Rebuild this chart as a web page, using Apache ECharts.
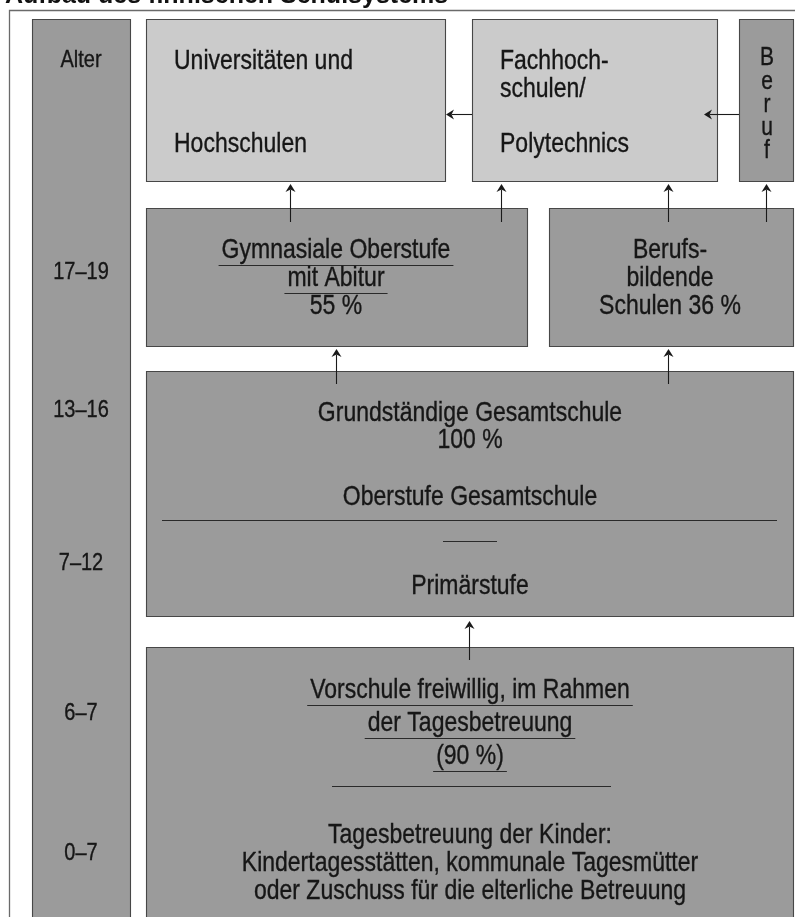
<!DOCTYPE html>
<html><head><meta charset="utf-8">
<script src="https://cdn.jsdelivr.net/npm/echarts@6/dist/echarts.min.js"></script>
<style>html,body{margin:0;padding:0;background:#fff}#c{width:795px;height:917px}</style>
</head><body><div id="c"></div>
<script>
// ---------- content ----------
const titleText = 'Aufbau des finnischen Schulsystems';
const ageLabels = ['Alter', '17–19', '13–16', '7–12', '6–7', '0–7'];
const uniLines = ['Universitäten und', 'Hochschulen'];
const fhLines = ['Fachhoch-', 'schulen/', 'Polytechnics'];
const berufLetters = ['B', 'e', 'r', 'u', 'f'];
const sharePct = [55, 36, 100, 90]; // Gymnasium, Berufsbildende, Gesamtschule, Vorschule
const gymLines = ['Gymnasiale Oberstufe', 'mit Abitur', sharePct[0] + ' %'];
const berufsLines = ['Berufs-', 'bildende', 'Schulen ' + sharePct[1] + ' %'];
const gesamtLines = ['Grundständige Gesamtschule', sharePct[2] + ' %', 'Oberstufe Gesamtschule', 'Primärstufe'];
const vorschuleLines = ['Vorschule freiwillig, im Rahmen', 'der Tagesbetreuung', '(' + sharePct[3] + ' %)',
  'Tagesbetreuung der Kinder:', 'Kindertagesstätten, kommunale Tagesmütter', 'oder Zuschuss für die elterliche Betreuung'];

// ---------- layout (diagram units = pixels of a 795 x 917 canvas) ----------
const W = 795, H = 917;
const FONT = '"Liberation Sans", Arial, Helvetica, sans-serif';
const FS = 23, SY = 1.2, AGE_FS = 20;
const TONES = ['#cbcbcb', '#9b9b9b'];
const boxes = [
  [32, 19, 130, 960, 1],    // Alter
  [146, 19, 445, 181, 0],   // Universitäten
  [472, 19, 717, 181, 0],   // Fachhochschulen
  [739, 19, 793, 181, 1],   // Beruf
  [146, 208, 527, 346, 1],  // Gymnasiale Oberstufe
  [549, 208, 793, 346, 1],  // Berufsbildende Schulen
  [146, 371, 793, 616, 1],  // Gesamtschule
  [146, 647, 793, 960, 1]   // Vorschule / Tagesbetreuung
];
const ageY = [60, 272, 410, 563, 713, 853];
const texts = [];
texts.push({ t: titleText, x: 5, y: -4, align: 'left', fs: 25, bold: true });
ageLabels.forEach((t, i) => texts.push({ t, x: 81, y: ageY[i], align: 'center', fs: AGE_FS }));
[61, 144].forEach((y, i) => texts.push({ t: uniLines[i], x: 174, y, align: 'left' }));
[61, 89, 144].forEach((y, i) => texts.push({ t: fhLines[i], x: 500, y, align: 'left' }));
[58, 82, 105, 128, 151].forEach((y, i) => texts.push({ t: berufLetters[i], x: 767, y, align: 'center', fs: 21 }));
[250, 278, 306].forEach((y, i) => texts.push({ t: gymLines[i], x: 336, y, align: 'center', ul: i < 2 }));
[250, 278, 306].forEach((y, i) => texts.push({ t: berufsLines[i], x: 670, y, align: 'center' }));
[413, 440, 497, 586].forEach((y, i) => texts.push({ t: gesamtLines[i], x: 470, y, align: 'center' }));
[690, 723, 756, 835, 863, 891].forEach((y, i) => texts.push({ t: vorschuleLines[i], x: 470, y, align: 'center', ul: i < 3 }));

const rules = [ // [x0, y, x1]
  [162, 520, 777], [443, 541, 497], [332, 786, 611]
];
const arrows = [ // [xTail, yTail, xTip, yTip]
  [290, 222, 290, 184], [501, 222, 501, 184], [668, 222, 668, 184], [766, 222, 766, 184],
  [336, 384, 336, 349], [668, 384, 668, 349],
  [469, 660, 469, 621],
  [472, 114, 446, 114], [739, 114, 704, 114]
];
const frame = [[9, H], [9, 10], [W, 10]];

// text measuring for underlines
const mctx = document.createElement('canvas').getContext('2d');
mctx.font = FS + 'px ' + FONT;

const chart = echarts.init(document.getElementById('c'), null, { renderer: 'canvas' });
const crisp = v => Math.round(v) + 0.5;

chart.setOption({
  animation: false,
  backgroundColor: '#fff',
  grid: { left: 0, right: 0, top: 0, bottom: 0 },
  xAxis: { type: 'value', min: 0, max: W, show: false },
  yAxis: { type: 'value', min: 0, max: H, inverse: true, show: false },
  series: [
    { // frame
      type: 'custom', silent: true, clip: false,
      data: [[0, 0]],
      renderItem: (p, api) => ({
        type: 'polyline',
        shape: { points: frame.map(q => { const c = api.coord(q); return [crisp(c[0]), crisp(c[1])]; }) },
        style: { stroke: '#6a6a6a', lineWidth: 1.3, fill: null }
      })
    },
    { // boxes
      type: 'custom', silent: true, clip: false,
      data: boxes,
      renderItem: (p, api) => {
        const a = api.coord([api.value(0), api.value(1)]);
        const b = api.coord([api.value(2), api.value(3)]);
        return {
          type: 'rect',
          shape: { x: crisp(a[0]), y: crisp(a[1]), width: Math.round(b[0] - a[0]), height: Math.round(b[1] - a[1]) },
          style: { fill: TONES[api.value(4)], stroke: '#474747', lineWidth: 1.1 }
        };
      }
    },
    { // separator rules
      type: 'custom', silent: true, clip: false,
      data: rules,
      renderItem: (p, api) => {
        const a = api.coord([api.value(0), api.value(1)]);
        const b = api.coord([api.value(2), api.value(1)]);
        return { type: 'line', shape: { x1: a[0], y1: crisp(a[1]), x2: b[0], y2: crisp(b[1]) },
          style: { stroke: '#2a2a2a', lineWidth: 1.1 } };
      }
    },
    { // arrows
      type: 'custom', silent: true, clip: false,
      data: arrows,
      renderItem: (p, api) => {
        const t = api.coord([api.value(0), api.value(1)]);
        const h = api.coord([api.value(2), api.value(3)]);
        const dx = h[0] - t[0], dy = h[1] - t[1];
        const len = Math.hypot(dx, dy), ux = dx / len, uy = dy / len;
        const L = 8, Wd = 5;
        const vert = Math.abs(dx) < 0.01;
        const hx = vert ? crisp(h[0]) : h[0], hy = vert ? h[1] : crisp(h[1]);
        const tx = vert ? hx : t[0], ty = vert ? t[1] : hy;
        const bx = hx - ux * L, by = hy - uy * L;
        const nx = hx - ux * (L - 2.5), ny = hy - uy * (L - 2.5);
        return {
          type: 'group',
          children: [
            { type: 'line', shape: { x1: tx, y1: ty, x2: nx, y2: ny }, style: { stroke: '#1a1a1a', lineWidth: 1.1 } },
            { type: 'polygon', shape: { points: [[hx, hy], [bx - uy * Wd, by + ux * Wd], [nx, ny], [bx + uy * Wd, by - ux * Wd]] },
              style: { fill: '#1a1a1a' } }
          ]
        };
      }
    },
    { // texts
      type: 'custom', silent: true, clip: false,
      data: texts.map((t, i) => [t.x, t.y, i]),
      renderItem: (p, api) => {
        const t = texts[api.value(2)];
        const c = api.coord([api.value(0), api.value(1)]);
        const fs = t.fs || FS;
        const children = [{
          type: 'text', x: c[0], y: c[1], scaleY: t.bold ? 1 : SY,
          style: t.bold
            ? { text: t.t, fill: '#111', font: 'bold ' + fs + 'px ' + FONT, align: t.align, verticalAlign: 'middle' }
            : { text: t.t, fill: '#161616', stroke: '#161616', lineWidth: 0.3,
                font: fs + 'px ' + FONT, align: t.align, verticalAlign: 'middle' }
        }];
        if (t.ul) {
          const w = mctx.measureText(t.t).width + 6;
          const x0 = t.align === 'center' ? c[0] - w / 2 : c[0] - 3;
          const yy = crisp(c[1] + 15);
          children.push({ type: 'line', shape: { x1: x0, y1: yy, x2: x0 + w, y2: yy }, style: { stroke: '#2a2a2a', lineWidth: 1.1 } });
        }
        return { type: 'group', children };
      }
    }
  ]
});
</script></body></html>
